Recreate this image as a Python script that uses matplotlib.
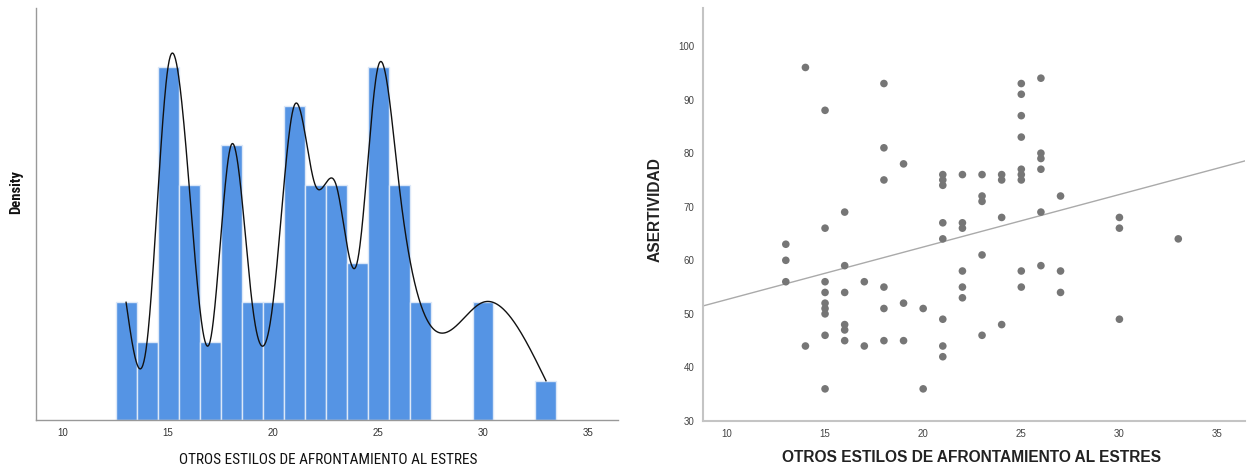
import numpy as np
import matplotlib
matplotlib.use("Agg")
import matplotlib.pyplot as plt
from matplotlib import font_manager

# ---------------- data ----------------
hist_bins = [13, 14, 15, 16, 17, 18, 19, 20, 21, 22, 23, 24, 25, 26, 27, 30, 33]
hist_counts = [3, 2, 9, 6, 2, 7, 3, 3, 8, 6, 6, 4, 9, 6, 3, 3, 1]

scatter_x = ([13] * 3 + [14] * 2 + [15] * 9 + [16] * 6 + [17] * 2 + [18] * 6 +
             [19] * 3 + [20] * 2 + [21] * 8 + [22] * 6 + [23] * 5 + [24] * 4 +
             [25] * 9 + [26] * 6 + [27] * 3 + [30] * 3 + [33] * 1)
scatter_y = ([63, 60, 56] + [96, 44] + [88, 66, 56, 54, 52, 51, 50, 46, 36] +
             [69, 59, 54, 48, 47, 45] + [56, 44] + [93, 81, 75, 55, 51, 45] +
             [78, 52, 45] + [51, 36] + [76, 75, 74, 67, 64, 49, 44, 42] +
             [76, 67, 66, 58, 55, 53] + [76, 72, 71, 61, 46] + [76, 75, 68, 48] +
             [93, 91, 87, 83, 77, 76, 75, 58, 55] + [94, 80, 79, 77, 69, 59] +
             [72, 58, 54] + [68, 66, 49] + [64])

x_ticks = [10, 15, 20, 25, 30, 35]
y_ticks_right = [30, 40, 50, 60, 70, 80, 90, 100]
x_label = "OTROS ESTILOS DE AFRONTAMIENTO AL ESTRES"
y_label_left = "Density"
y_label_right = "ASERTIVIDAD"

# ---------------- fonts ----------------
names = {f.name for f in font_manager.fontManager.ttflist}
narrow = None
for cand in ['Liberation Sans Narrow', 'Arial Narrow', 'Roboto Condensed',
             'Noto Sans Condensed', 'Open Sans Condensed', 'DejaVu Sans Condensed']:
    if cand in names:
        narrow = cand
        break
if narrow is None:
    for n in sorted(names):
        if 'Narrow' in n or 'Condensed' in n:
            narrow = n
            break
plt.rcParams['font.family'] = ['Liberation Sans', 'DejaVu Sans']
if narrow is None:
    narrow_family = ['Liberation Sans', 'DejaVu Sans']
    left_label_size = 9.0
    dens_size = 8.5
else:
    narrow_family = [narrow, 'DejaVu Sans']
    left_label_size = 11.0
    dens_size = 10.5


def natural_cubic(xk, yk, xs):
    xk = np.asarray(xk, float)
    yk = np.asarray(yk, float)
    n = len(xk)
    h = np.diff(xk)
    A = np.zeros((n, n))
    r = np.zeros(n)
    A[0, 0] = 1
    A[-1, -1] = 1
    for i in range(1, n - 1):
        A[i, i - 1] = h[i - 1]
        A[i, i] = 2 * (h[i - 1] + h[i])
        A[i, i + 1] = h[i]
        r[i] = 3 * ((yk[i + 1] - yk[i]) / h[i] - (yk[i] - yk[i - 1]) / h[i - 1])
    c = np.linalg.solve(A, r)
    b = (yk[1:] - yk[:-1]) / h - h * (2 * c[:-1] + c[1:]) / 3
    d = (c[1:] - c[:-1]) / (3 * h)
    idx = np.clip(np.searchsorted(xk, xs) - 1, 0, n - 2)
    dx = xs - xk[idx]
    return yk[idx] + b[idx] * dx + c[idx] * dx ** 2 + d[idx] * dx ** 3


W, H = 1250, 474
fig = plt.figure(figsize=(W / 100, H / 100), dpi=100)


def ax_rect(l, t, r, b):
    return [l / W, 1 - b / H, (r - l) / W, (b - t) / H]


# ---------------- left: histogram ----------------
ax1 = fig.add_axes(ax_rect(36, 8, 618, 420))
ax1.bar(hist_bins, hist_counts, width=1.0, color='#5594e4',
        edgecolor='#dce8f8', linewidth=1.0, zorder=2)
xs = np.linspace(min(hist_bins), max(hist_bins), 800)
ax1.plot(xs, natural_cubic(hist_bins, hist_counts, xs), color='#111111',
         linewidth=1.0, zorder=3)
ax1.set_xlim(8.71, 36.43)
ax1.set_ylim(0, 10.5)
ax1.set_xticks(x_ticks)
ax1.set_yticks([])
ax1.tick_params(axis='x', length=0, pad=6, labelsize=7, labelcolor='#333333')
for s in ['top', 'right']:
    ax1.spines[s].set_visible(False)
for s in ['left', 'bottom']:
    ax1.spines[s].set_color('#999999')
    ax1.spines[s].set_linewidth(1.0)
fig.text(328 / W, 1 - 460 / H, x_label, ha='center', va='center',
         fontsize=left_label_size, family=narrow_family, color='#111111')
fig.text(16 / W, 1 - 192 / H, y_label_left, ha='center', va='center',
         rotation=90, fontsize=dens_size, family=narrow_family,
         fontweight='bold', color='#111111')

# ---------------- right: scatter ----------------
ax2 = fig.add_axes(ax_rect(703, 8, 1245, 421))
ax2.scatter(scatter_x, scatter_y, s=30, color='#767676', edgecolors='none',
            zorder=3)
slope, intercept = np.polyfit(scatter_x, scatter_y, 1)
xl = np.array([8.78, 36.4])
ax2.plot(xl, intercept + slope * xl, color='#aaaaaa', linewidth=1.0, zorder=2)
ax2.set_xlim(8.78, 36.4)
ax2.set_ylim(30, 107.1)
ax2.set_xticks(x_ticks)
ax2.set_yticks(y_ticks_right)
ax2.tick_params(axis='both', length=0, labelsize=7, labelcolor='#444444')
ax2.tick_params(axis='x', pad=6)
ax2.tick_params(axis='y', pad=6)
for s in ['top', 'right']:
    ax2.spines[s].set_visible(False)
for s in ['left', 'bottom']:
    ax2.spines[s].set_color('#c4c4c4')
    ax2.spines[s].set_linewidth(1.5)
fig.text(972 / W, 1 - 458 / H, x_label, ha='center', va='center',
         fontsize=11.2, fontweight='bold', color='#222222')
fig.text(655 / W, 1 - 210 / H, y_label_right, ha='center', va='center',
         rotation=90, fontsize=11.2, fontweight='bold', color='#222222')

fig.savefig("out.png", dpi=100)
